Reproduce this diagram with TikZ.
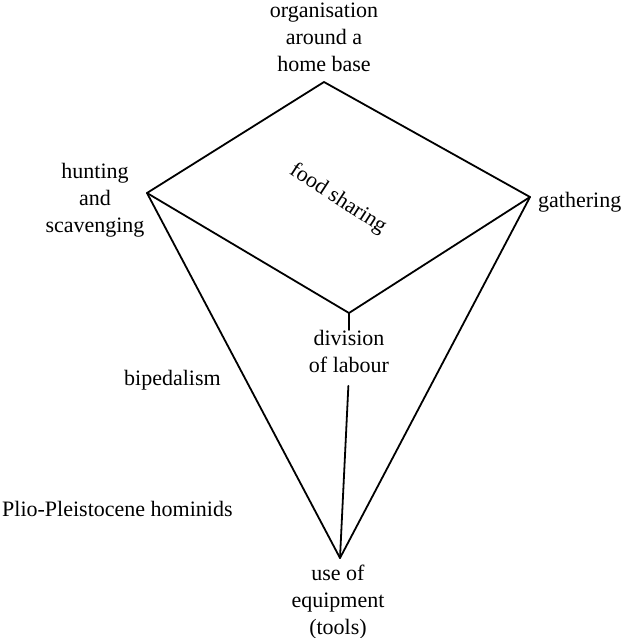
\documentclass[tikz,border=0pt]{standalone}
\usepackage{fontspec}
\setmainfont{Liberation Serif}
\usepackage{tikz}
\usetikzlibrary{positioning}

\begin{document}
\begin{tikzpicture}[
			x=1pt, y=-1pt,
			etiqueta/.style = {
				font=\fontsize{22}{27}\selectfont,
				align=center,
				inner sep=0pt
			},
			arista/.style = {
				line width=1.8pt,
				line join=round,
				line cap=round
			}
			]
			\useasboundingbox (0,0) rectangle (622,638);
			
			% vertices of the figure
			\coordinate (hogar) at (324,82);
			\coordinate (caza) at (147,193);
			\coordinate (recol) at (530,197);
			\coordinate (divis) at (349,313);
			\coordinate (herram) at (340,558);
			
			\node[etiqueta, anchor=north] (thogar) at (324,3) {organisation\\around a\\home base};
			\node[etiqueta, anchor=north] (tcaza) at (95,163) {hunting\\and\\scavenging};
			\node[etiqueta, anchor=base west] (trecol) at (538,207) {gathering};
			\node[etiqueta, anchor=north] (tdivis) at (349,330) {division\\of labour};
			\node[etiqueta, anchor=north] (therram) at (338,565) {use of\\equipment\\(tools)};
			\node[etiqueta, rotate=-33] (comida) at (338,199) {food sharing};
			\node[etiqueta, anchor=base west] (bipedo) at (124,385) {bipedalism};
			\node[etiqueta, anchor=base west] (homin) at (2,516) {Plio-Pleistocene hominids};
			
			\draw[arista] (caza) -- (hogar) -- (recol) -- (divis) -- cycle;
			\draw[arista] (caza) -- (herram) -- (recol);
			\draw[arista] (divis) -- (divis |- tdivis.north);
			\draw[arista, shorten <=13pt] (tdivis.south) -- (herram);
			
		\end{tikzpicture}
\end{document}
